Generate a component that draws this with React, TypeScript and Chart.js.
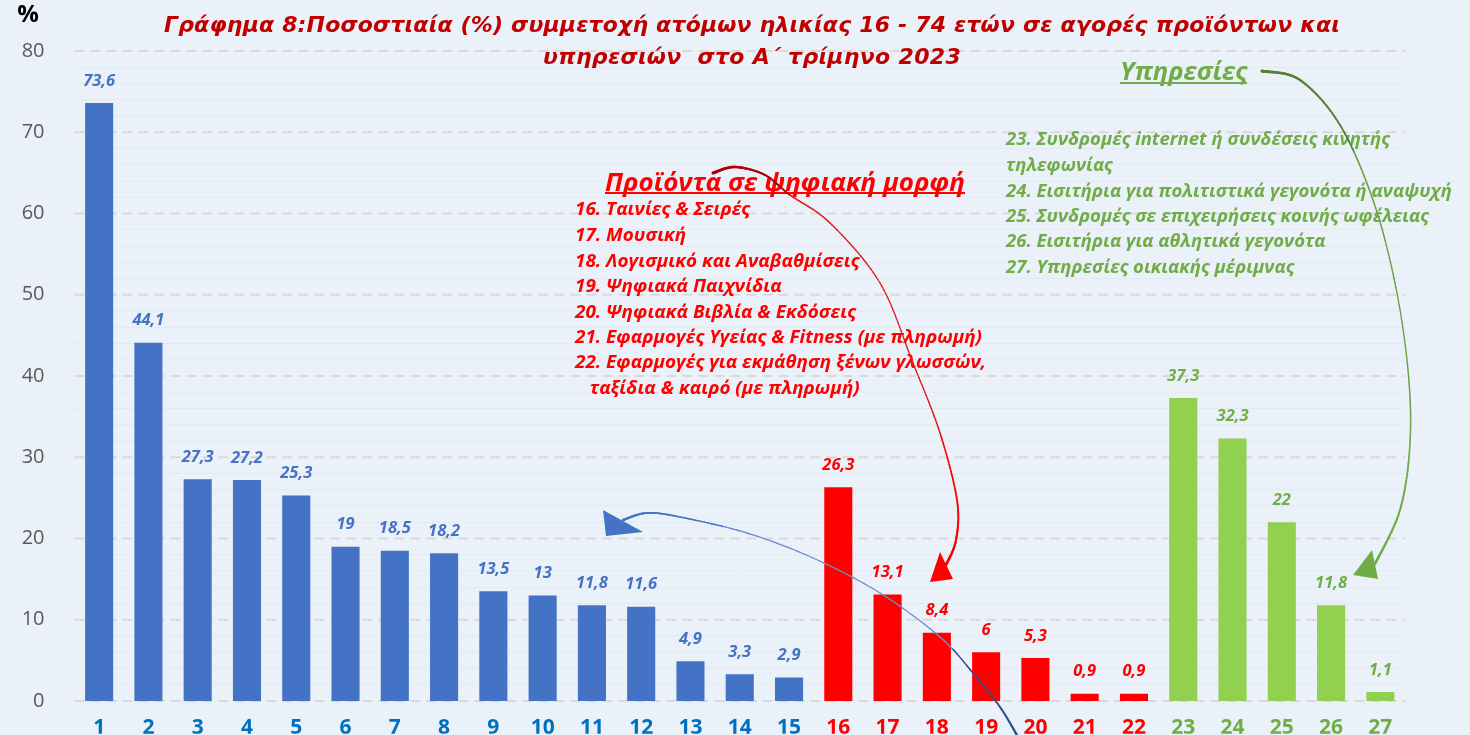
import React, { useEffect, useRef } from "react";
import { Chart, registerables } from "chart.js";

Chart.register(...registerables);

// ---------- DATA ----------
const categories = [
  "1", "2", "3", "4", "5", "6", "7", "8", "9", "10", "11", "12", "13", "14", "15",
  "16", "17", "18", "19", "20", "21", "22",
  "23", "24", "25", "26", "27",
];
const values = [
  73.6, 44.1, 27.3, 27.2, 25.3, 19, 18.5, 18.2, 13.5, 13, 11.8, 11.6, 4.9, 3.3, 2.9,
  26.3, 13.1, 8.4, 6, 5.3, 0.9, 0.9,
  37.3, 32.3, 22, 11.8, 1.1,
];
// group of each category: P = physical goods, D = digital products, S = services
const groups = [
  "P", "P", "P", "P", "P", "P", "P", "P", "P", "P", "P", "P", "P", "P", "P",
  "D", "D", "D", "D", "D", "D", "D",
  "S", "S", "S", "S", "S",
];
const yTickValues = [0, 10, 20, 30, 40, 50, 60, 70, 80];

const titleLines = [
  "Γράφημα 8:Ποσοστιαία (%) συμμετοχή ατόμων ηλικίας 16 - 74 ετών σε αγορές προϊόντων και",
  "υπηρεσιών  στο Α΄ τρίμηνο 2023",
];
const yUnit = "%";
const productsHeading = "Προϊόντα σε ψηφιακή μορφή";
const productItems = [
  "16. Ταινίες & Σειρές",
  "17. Μουσική",
  "18. Λογισμικό και Αναβαθμίσεις",
  "19. Ψηφιακά Παιχνίδια",
  "20. Ψηφιακά Βιβλία & Εκδόσεις",
  "21. Εφαρμογές Υγείας & Fitness (με πληρωμή)",
  "22. Εφαρμογές για εκμάθηση ξένων γλωσσών,",
  "   ταξίδια & καιρό (με πληρωμή)",
];
const servicesHeading = "Υπηρεσίες";
const serviceItems = [
  "23. Συνδρομές internet ή συνδέσεις κινητής",
  "τηλεφωνίας",
  "24. Εισιτήρια για πολιτιστικά γεγονότα ή αναψυχή",
  "25. Συνδρομές σε επιχειρήσεις κοινής ωφέλειας",
  "26. Εισιτήρια για αθλητικά γεγονότα",
  "27. Υπηρεσίες οικιακής μέριμνας",
];

// ---------- STYLE ----------
const BG = "#EBF1F8";
const barColor: Record<string, string> = { P: "#4472C4", D: "#FF0000", S: "#92D050" };
const labelColor: Record<string, string> = { P: "#4472C4", D: "#FF0000", S: "#70AD47" };
const tickColor: Record<string, string> = { P: "#0070C0", D: "#FF0000", S: "#70AD47" };
const FONT = "'Open Sans', 'Noto Sans', sans-serif";

type Pt = [number, number];

function catmull(points: Pt[], steps = 20): Pt[] {
  const out: Pt[] = [];
  for (let i = 0; i < points.length - 1; i++) {
    const p0 = points[Math.max(0, i - 1)];
    const p1 = points[i];
    const p2 = points[i + 1];
    const p3 = points[Math.min(points.length - 1, i + 2)];
    for (let s = 0; s < steps; s++) {
      const t = s / steps;
      const t2 = t * t;
      const t3 = t2 * t;
      const f = (a: number, b: number, c: number, d: number) =>
        0.5 * (2 * b + (-a + c) * t + (2 * a - 5 * b + 4 * c - d) * t2 + (-a + 3 * b - 3 * c + d) * t3);
      out.push([f(p0[0], p1[0], p2[0], p3[0]), f(p0[1], p1[1], p2[1], p3[1])]);
    }
  }
  out.push(points[points.length - 1]);
  return out;
}

function drawArrow(
  ctx: CanvasRenderingContext2D,
  pts: Pt[],
  head: Pt[],
  cStart: string,
  cMid: string,
  cEnd: string,
  wStart: number,
  wEnd: number,
  headColor: string
) {
  const s = catmull(pts);
  const n = s.length - 1;
  ctx.save();
  ctx.lineCap = "round";
  for (let i = 0; i < n; i++) {
    const t = i / n;
    const w = 0.8 + (wStart - 0.8) * Math.pow(1 - t, 3) + (wEnd - 0.8) * Math.pow(t, 3);
    ctx.strokeStyle = t < 0.3 ? cStart : t > 0.7 ? cEnd : cMid;
    ctx.lineWidth = w;
    ctx.beginPath();
    ctx.moveTo(s[i][0], s[i][1]);
    ctx.lineTo(s[i + 1][0], s[i + 1][1]);
    ctx.stroke();
  }
  ctx.fillStyle = headColor;
  ctx.beginPath();
  ctx.moveTo(head[0][0], head[0][1]);
  ctx.lineTo(head[1][0], head[1][1]);
  ctx.lineTo(head[2][0], head[2][1]);
  ctx.closePath();
  ctx.fill();
  ctx.restore();
}

function scaledText(ctx: CanvasRenderingContext2D, text: string, x: number, y: number, sx: number) {
  ctx.save();
  ctx.translate(x, y);
  ctx.scale(sx, 1);
  ctx.fillText(text, 0, 0);
  ctx.restore();
}

function spacedText(ctx: any, text: string, cx: number, y: number, target: number) {
  ctx.save();
  ctx.letterSpacing = "0px";
  const w = ctx.measureText(text).width;
  const ls = (target - w) / text.length;
  ctx.letterSpacing = `${ls}px`;
  ctx.textAlign = "left";
  ctx.fillText(text, cx - target / 2, y);
  ctx.restore();
}

const decorPlugin = {
  id: "decor",
  beforeDraw(chart: any) {
    const { ctx, width, height } = chart;
    ctx.save();
    ctx.fillStyle = BG;
    ctx.fillRect(0, 0, width, height);
    ctx.restore();
  },
  beforeDatasetsDraw(chart: any) {
    const { ctx, chartArea } = chart;
    const y = chart.scales.y;
    ctx.save();
    for (let v = 0; v <= 80; v += 2) {
      const py = y.getPixelForValue(v);
      ctx.beginPath();
      if (v % 10 === 0) {
        ctx.strokeStyle = "#D9D9D9";
        ctx.lineWidth = 2;
        ctx.setLineDash([10, 6]);
      } else {
        ctx.strokeStyle = "#E3E9F0";
        ctx.lineWidth = 1;
        ctx.setLineDash([]);
      }
      ctx.moveTo(chartArea.left, py);
      ctx.lineTo(chartArea.right, py);
      ctx.stroke();
    }
    ctx.restore();
  },
  afterDatasetsDraw(chart: any) {
    const { ctx } = chart;
    const meta = chart.getDatasetMeta(0);
    ctx.save();
    // data labels
    ctx.font = `italic bold 16.5px ${FONT}`;
    ctx.textAlign = "center";
    ctx.textBaseline = "middle";
    meta.data.forEach((bar: any, i: number) => {
      ctx.fillStyle = labelColor[groups[i]];
      ctx.fillText(String(values[i]).replace(".", ","), bar.x, bar.y - 22);
    });

    // "%" unit
    ctx.fillStyle = "#000000";
    ctx.font = `bold 24px ${FONT}`;
    ctx.fillText(yUnit, 28, 15);

    // title
    ctx.fillStyle = "#C00000";
    ctx.font = "italic bold 22px 'DejaVu Sans', sans-serif";
    spacedText(ctx, titleLines[0], 752, 26, 1176);
    spacedText(ctx, titleLines[1], 752, 58, 418);

    // products block
    ctx.textAlign = "left";
    ctx.fillStyle = "#FF0000";
    ctx.font = `italic bold 25px ${FONT}`;
    let w = ctx.measureText(productsHeading).width;
    scaledText(ctx, productsHeading, 605, 184, 360 / w);
    ctx.fillRect(605, 192, 360, 2);
    ctx.font = `italic bold 18px ${FONT}`;
    w = ctx.measureText(productItems[5]).width;
    const sxP = 407 / w;
    const pY = [210, 236, 262, 287, 313, 338, 363, 389];
    productItems.forEach((t, i) => scaledText(ctx, t, 575, pY[i], sxP));

    // services block
    ctx.fillStyle = "#70AD47";
    ctx.font = `italic bold 25px ${FONT}`;
    w = ctx.measureText(servicesHeading).width;
    scaledText(ctx, servicesHeading, 1120, 73, 127 / w);
    ctx.fillRect(1120, 82, 127, 2);
    ctx.font = `italic bold 18px ${FONT}`;
    w = ctx.measureText(serviceItems[2]).width;
    const sxS = 446 / w;
    const sY = [140, 166, 192, 217, 242, 268];
    serviceItems.forEach((t, i) => scaledText(ctx, t, 1006, sY[i], sxS));
    ctx.restore();

    // arrows
    drawArrow(
      ctx,
      [[713, 173], [735, 167], [765, 175], [790, 195], [830, 223], [880, 283], [913, 363], [940, 433], [957, 500], [956, 540], [946, 565]],
      [[930, 582], [940, 552], [953, 579]],
      "#B00000", "#E02020", "#FF0000", 3, 2.6, "#FF0000"
    );
    drawArrow(
      ctx,
      [[1018, 737], [1000, 707], [973, 673], [940, 637], [880, 593], [813, 558], [747, 533], [680, 517], [647, 513], [623, 520]],
      [[603, 510], [606, 536], [643, 532]],
      "#2F4F8F", "#6F8FD0", "#4472C4", 2.2, 2.4, "#4472C4"
    );
    drawArrow(
      ctx,
      [[1262, 71], [1300, 80], [1340, 125], [1373, 200], [1395, 283], [1408, 370], [1410, 443], [1400, 510], [1375, 564]],
      [[1353, 575], [1372, 550], [1378, 579]],
      "#548235", "#6A9F45", "#70AD47", 3, 2.6, "#70AD47"
    );
  },
};

export default function App() {
  const ref = useRef<HTMLCanvasElement | null>(null);
  useEffect(() => {
    if (!ref.current) return;
    const chart = new Chart(ref.current, {
      type: "bar",
      data: {
        labels: categories,
        datasets: [
          {
            data: values,
            backgroundColor: groups.map((g) => barColor[g]),
            borderWidth: 0,
            barPercentage: 0.57,
            categoryPercentage: 1,
          },
        ],
      },
      options: {
        responsive: false,
        animation: false,
        devicePixelRatio: 1,
        layout: { padding: { top: 51, right: 65, left: 0, bottom: 0 } },
        plugins: { legend: { display: false }, tooltip: { enabled: false }, title: { display: false } },
        scales: {
          x: {
            grid: { display: false },
            border: { display: false },
            ticks: {
              autoSkip: false,
              maxRotation: 0,
              padding: 6,
              color: (c: any) => tickColor[groups[c.index]],
              font: { family: FONT, weight: "bold", size: 21 },
            },
            afterFit: (s: any) => {
              s.height = 32.7;
            },
          },
          y: {
            min: 0,
            max: 80,
            grid: { display: false },
            border: { display: false },
            afterBuildTicks: (s: any) => {
              s.ticks = yTickValues.map((v) => ({ value: v }));
            },
            ticks: {
              padding: 22,
              color: "#595959",
              font: { family: FONT, size: 20 },
            },
            afterFit: (s: any) => {
              s.width = 74.5;
            },
          },
        },
      },
      plugins: [decorPlugin],
    } as any);
    return () => chart.destroy();
  }, []);
  return (
    <div style={{ position: "fixed", left: 0, top: 0, width: 1470, height: 735, background: BG }}>
      <canvas ref={ref} width={1470} height={735} style={{ display: "block" }} />
    </div>
  );
}
